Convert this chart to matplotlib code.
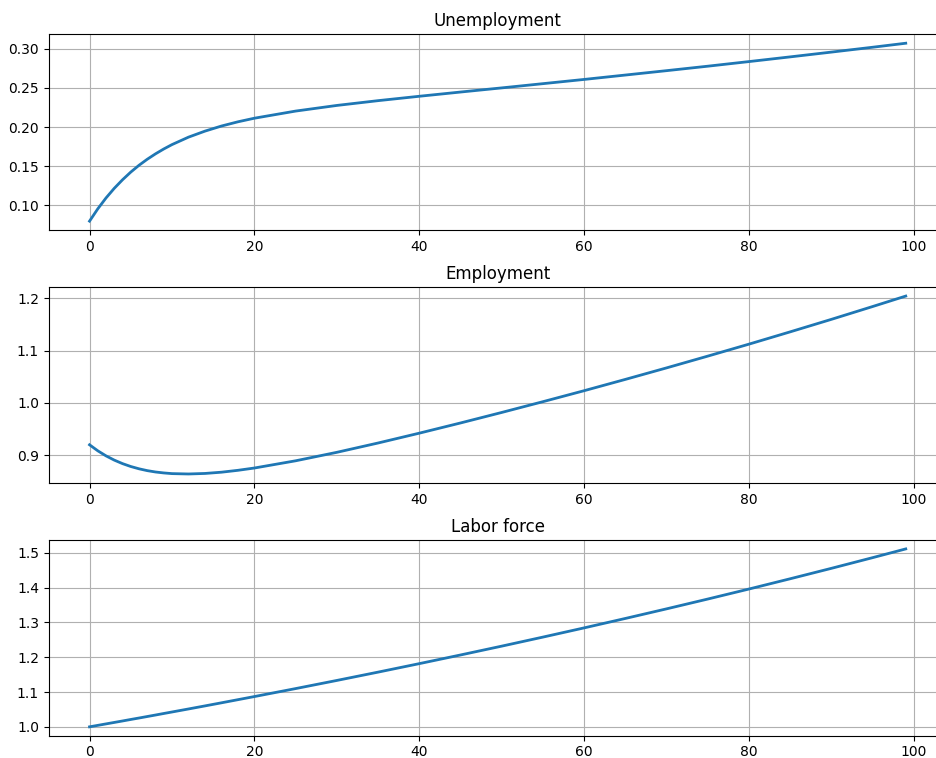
import matplotlib
matplotlib.use("Agg")
import matplotlib.pyplot as plt

# Periods
periods = [0, 1, 2, 3, 4, 5, 6, 7, 8, 9, 10, 12, 14, 16, 18, 20, 25, 30, 35, 40,
           45, 50, 55, 60, 65, 70, 75, 80, 85, 90, 95, 99]

unemployment = [0.0800, 0.0957, 0.1096, 0.1219, 0.1328, 0.1426, 0.1513, 0.1590,
                0.1659, 0.1721, 0.1777, 0.1872, 0.1949, 0.2014, 0.2068, 0.2114,
                0.2205, 0.2277, 0.2338, 0.2394, 0.2448, 0.2501, 0.2555, 0.2609,
                0.2665, 0.2721, 0.2778, 0.2837, 0.2897, 0.2958, 0.3020, 0.3071]

employment = [0.9200, 0.9085, 0.8988, 0.8907, 0.8840, 0.8785, 0.8741, 0.8706,
              0.8680, 0.8662, 0.8649, 0.8642, 0.8652, 0.8676, 0.8712, 0.8756,
              0.8894, 0.9056, 0.9234, 0.9422, 0.9617, 0.9818, 1.0024, 1.0234,
              1.0450, 1.0670, 1.0895, 1.1124, 1.1359, 1.1598, 1.1843, 1.2042]

labor_force = [1.0000, 1.0042, 1.0084, 1.0126, 1.0168, 1.0211, 1.0253, 1.0296,
               1.0339, 1.0383, 1.0426, 1.0513, 1.0601, 1.0690, 1.0780, 1.0870,
               1.1099, 1.1333, 1.1572, 1.1816, 1.2065, 1.2319, 1.2579, 1.2844,
               1.3115, 1.3391, 1.3673, 1.3961, 1.4256, 1.4556, 1.4863, 1.5113]

titles = ["Unemployment", "Employment", "Labor force"]
series = [unemployment, employment, labor_force]

fig, axes = plt.subplots(3, 1, figsize=(9.37, 7.58), dpi=100)
fig.subplots_adjust(left=0.052, right=1.0102, top=0.9547, bottom=0.0294, hspace=0.292)

for ax, title, values in zip(axes, titles, series):
    ax.plot(periods, values, color="#1f77b4", lw=2)
    ax.set_title(title)
    ax.grid(True)

fig.savefig("out.png", dpi=100)
